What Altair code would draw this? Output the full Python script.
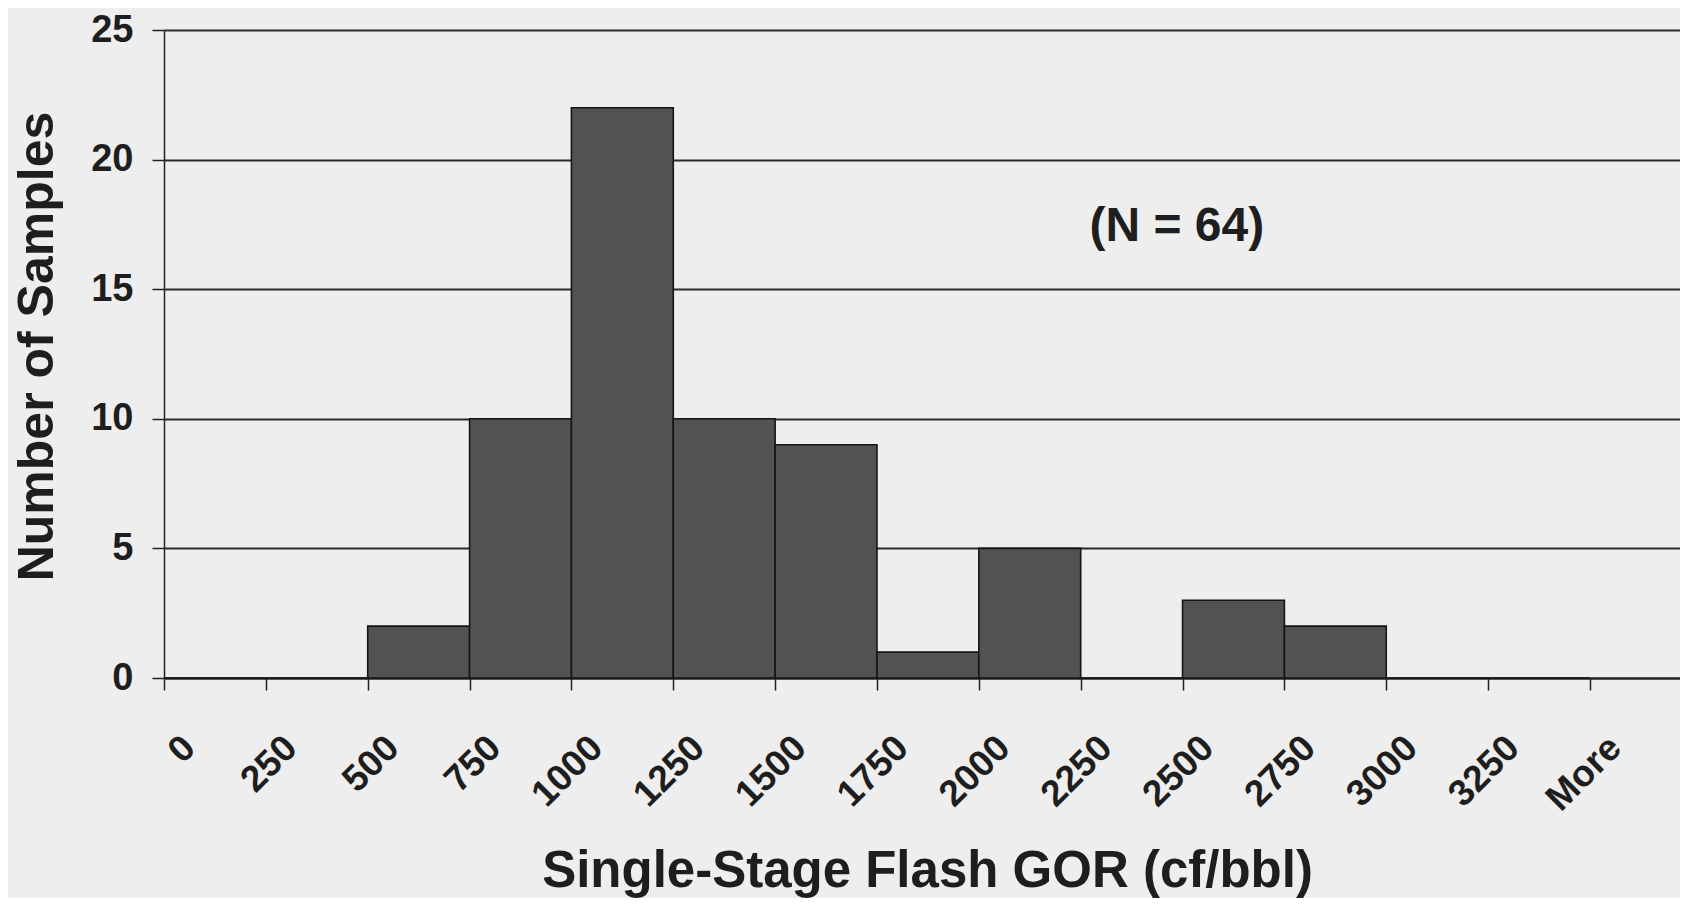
import altair as alt
import pandas as pd

# ---- data ----
bin_start = [0, 250, 500, 750, 1000, 1250, 1500, 1750, 2000, 2250, 2500, 2750, 3000, 3250]
bin_end = [250, 500, 750, 1000, 1250, 1500, 1750, 2000, 2250, 2500, 2750, 3000, 3250, 3500]
counts = [0, 0, 2, 10, 22, 10, 9, 1, 5, 0, 3, 2, 0, 0]
x_tick_values = [0, 250, 500, 750, 1000, 1250, 1500, 1750, 2000, 2250, 2500, 2750, 3000, 3250, 3500]
last_tick_label = "More"
y_tick_values = [0, 5, 10, 15, 20, 25]
note_text = ["(N = 64)"]
note_x = [2486]
note_y = [17.4]

x_title = "Single-Stage Flash GOR (cf/bbl)"
y_title = "Number of Samples"

df = pd.DataFrame({"start": bin_start, "end": bin_end, "count": counts, "base": [0] * len(counts)})
note_df = pd.DataFrame({"x": note_x, "y": note_y, "t": note_text})

FONT = "Liberation Sans"
INK = "#1e1e1e"

x_scale = alt.Scale(domain=[0, 3721], nice=False, zero=False)
y_scale = alt.Scale(domain=[0, 25], nice=False)

x_axis = alt.Axis(
    values=x_tick_values,
    labelExpr=f"datum.value >= 3500 ? '{last_tick_label}' : format(datum.value, 'd')",
    labelAngle=-45,
    labelAlign="right",
    labelBaseline="middle",
    labelOffset=25,
    labelPadding=52,
    labelFontSize=37,
    labelFontWeight="bold",
    labelFont=FONT,
    labelColor=INK,
    labelOverlap=False,
    labelFlush=False,
    labelBound=False,
    tickSize=12,
    tickColor="#222222",
    tickWidth=1.5,
    domainColor="#222222",
    domainWidth=2,
    grid=False,
    title=x_title,
    titleFont=FONT,
    titleFontSize=51,
    titleFontWeight="bold",
    titleColor=INK,
    titleX=763,
    titleY=208,
    titleAlign="center",
    titleBaseline="alphabetic",
)

y_axis = alt.Axis(
    values=y_tick_values,
    labelFontSize=38,
    labelFontWeight="bold",
    labelFont=FONT,
    labelColor=INK,
    labelPadding=19,
    tickSize=12,
    tickColor="#222222",
    tickWidth=1.5,
    domainColor="#222222",
    domainWidth=1.5,
    grid=True,
    gridColor="#2a2a2a",
    gridWidth=1.8,
    title=y_title,
    titleFont=FONT,
    titleFontSize=50,
    titleFontWeight="bold",
    titleColor=INK,
    titleX=-127,
    titleY=316,
    titleAngle=270,
    titleAlign="center",
    titleBaseline="middle",
)

bars = alt.Chart(df).mark_rect(
    fill="#525252", stroke="#151515", strokeWidth=1.6
).encode(
    x=alt.X("start:Q", scale=x_scale, axis=x_axis, title=x_title),
    x2="end:Q",
    y=alt.Y("count:Q", scale=y_scale, axis=y_axis, title=y_title),
    y2="base:Q",
)

note = alt.Chart(note_df).mark_text(
    fontSize=48, font=FONT, fontWeight="bold", color=INK, align="center", baseline="middle"
).encode(
    x=alt.X("x:Q", scale=x_scale, title=x_title),
    y=alt.Y("y:Q", scale=y_scale, title=y_title),
    text="t:N",
)

chart = (
    alt.layer(bars, note)
    .properties(
        width=1516,
        height=648,
        autosize=alt.AutoSizeParams(type="none"),
        padding={"left": 156, "top": 22, "right": 0, "bottom": 220},
        background="#eeeeee",
    )
    .configure_view(stroke=None)
)

chart.save("out.html", embed_options={"renderer": "svg", "actions": False})
